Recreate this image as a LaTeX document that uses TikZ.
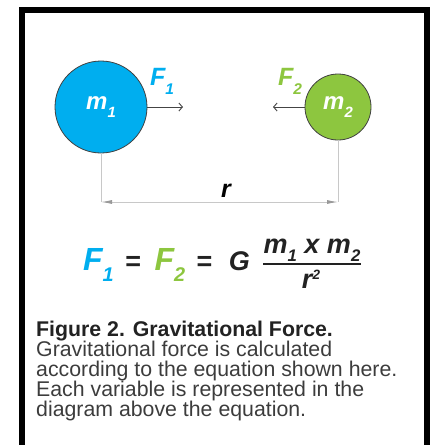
\documentclass[tikz,border=0pt]{standalone}
\usepackage{fontspec}
\setmainfont{Liberation Sans}
\usetikzlibrary{arrows.meta}
\definecolor{massblue}{HTML}{00AEEF}
\definecolor{massgreen}{HTML}{8DC63F}
\definecolor{inkgray}{HTML}{444444}
\definecolor{dimgray}{HTML}{C8C8C8}
\definecolor{tipgray}{HTML}{999999}
\definecolor{titlegray}{HTML}{222222}
\definecolor{bodygray}{HTML}{3C3C3C}
\newcommand\lo[2][0.36em]{\raisebox{-#1}{\scalebox{0.62}{#2}}}

\begin{document}
\begin{tikzpicture}[
  x=1pt,
  y=-1pt,
  mass/.style={circle,draw=black!75,line width=0.8pt,inner sep=0pt,text=white,
    font=\fontsize{24}{24}\selectfont\bfseries\itshape},
  glyph/.style={inner sep=0pt,font=\fontsize{25}{25}\selectfont\bfseries\itshape},
  eqtext/.style={inner sep=0pt,text=titlegray,font=\fontsize{27}{27}\selectfont\bfseries\itshape},
  force/.style={draw=inkgray,line width=0.9pt,-{Straight Barb[length=3.5pt,width=8pt]}},
  dimline/.style={draw=dimgray,line width=0.9pt},
  dimarrow/.style={dimline,{Latex[length=11pt,width=4pt,color=tipgray]}-{Latex[length=11pt,width=4pt,color=tipgray]}},
  fracbar/.style={draw=titlegray,line width=2.2pt},
  frame/.style={draw=black,line width=6pt,line join=miter}
]
  \useasboundingbox (0,0) rectangle (435,445);
  \draw[frame] (22,460) -- (22,10) -- (427,10) -- (427,460);

  \node[mass,fill=massblue,minimum size=92] (m1) at (101,107) {m\lo{1}};
  \node[mass,fill=massgreen,minimum size=66] (m2) at (338,107) {m\lo{2}};
  \node[glyph,text=massblue,anchor=base west] (f1lab) at (150,85) {F\lo{1}};
  \node[glyph,text=massgreen,anchor=base west] (f2lab) at (278,85) {F\lo{2}};

  \coordinate (f1tip) at (183,107);
  \coordinate (f2tip) at (273,107);
  \draw[force] (m1.east) -- (f1tip);
  \draw[force] (m2.west) -- (f2tip);

  \coordinate (dl) at (m1.south |- 0,202);
  \coordinate (dr) at (m2.south |- 0,202);
  \draw[dimline] (m1.south) -- (dl);
  \draw[dimline] (m2.south) -- (dr);
  \draw[dimarrow] (dl) -- (dr);
  \node[glyph,text=black,anchor=base] (rlab) at (226,197) {r};

  \node[eqtext,anchor=base west] (eqleft) at (83,270)
    {{\fontsize{32}{32}\selectfont\color{massblue}F\lo{1}}\hspace{11pt}=\hspace{14pt}{\fontsize{32}{32}\selectfont\color{massgreen}F\lo{2}}\hspace{11pt}=\hspace{17pt}G};
  \node[eqtext,anchor=base] (num) at (312,253) {m\lo[0.3em]{1} x m\lo[0.3em]{2}};
  \node[eqtext,anchor=base] (den) at (311,288) {r\raisebox{0.3em}{\scalebox{0.5}{2}}};
  \draw[fracbar] ([yshift=-3pt]num.south west) -- ([yshift=-3pt]num.south east);

  \node[inner sep=0pt,anchor=north west,align=left,text=bodygray,
    font=\fontsize{21.3}{20}\selectfont] (caption) at (36,320.5)
    {{\bfseries\color{titlegray}Figure 2. Gravitational Force.}\\
     Gravitational force is calculated\\
     according to the equation shown here.\\
     Each variable is represented in the\\
     diagram above the equation.};
\end{tikzpicture}
\end{document}
